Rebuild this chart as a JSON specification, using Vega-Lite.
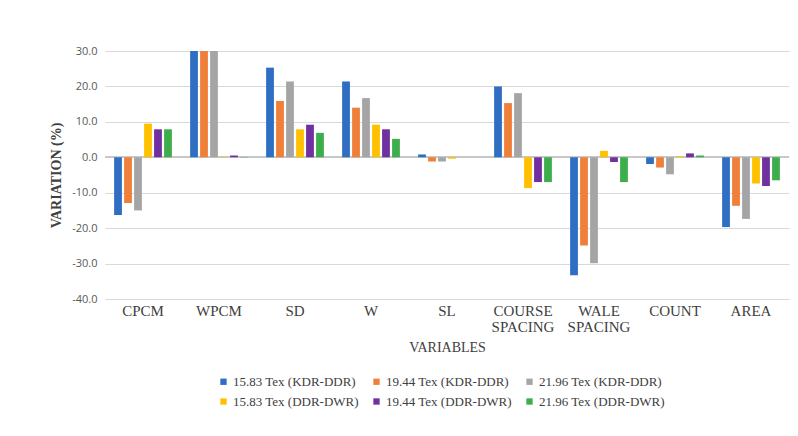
{
  "$schema": "https://vega.github.io/schema/vega-lite/v6.json",
  "width": 684,
  "height": 248,
  "autosize": {"type": "none"},
  "padding": {"left": 105, "top": 51, "right": 9, "bottom": 137},
  "background": "white",
  "data": {
    "values": [
      {"variable": "CPCM", "series": "15.83 Tex (KDR-DDR)", "value": -16.3},
      {"variable": "CPCM", "series": "19.44 Tex (KDR-DDR)", "value": -12.9},
      {"variable": "CPCM", "series": "21.96 Tex (KDR-DDR)", "value": -15.0},
      {"variable": "CPCM", "series": "15.83 Tex (DDR-DWR)", "value": 9.5},
      {"variable": "CPCM", "series": "19.44 Tex (DDR-DWR)", "value": 7.9},
      {"variable": "CPCM", "series": "21.96 Tex (DDR-DWR)", "value": 7.9},
      {"variable": "WPCM", "series": "15.83 Tex (KDR-DDR)", "value": 30.0},
      {"variable": "WPCM", "series": "19.44 Tex (KDR-DDR)", "value": 30.0},
      {"variable": "WPCM", "series": "21.96 Tex (KDR-DDR)", "value": 30.0},
      {"variable": "WPCM", "series": "15.83 Tex (DDR-DWR)", "value": 0.1},
      {"variable": "WPCM", "series": "19.44 Tex (DDR-DWR)", "value": 0.5},
      {"variable": "WPCM", "series": "21.96 Tex (DDR-DWR)", "value": 0.1},
      {"variable": "SD", "series": "15.83 Tex (KDR-DDR)", "value": 25.3},
      {"variable": "SD", "series": "19.44 Tex (KDR-DDR)", "value": 15.9},
      {"variable": "SD", "series": "21.96 Tex (KDR-DDR)", "value": 21.4},
      {"variable": "SD", "series": "15.83 Tex (DDR-DWR)", "value": 7.9},
      {"variable": "SD", "series": "19.44 Tex (DDR-DWR)", "value": 9.2},
      {"variable": "SD", "series": "21.96 Tex (DDR-DWR)", "value": 6.9},
      {"variable": "W", "series": "15.83 Tex (KDR-DDR)", "value": 21.4},
      {"variable": "W", "series": "19.44 Tex (KDR-DDR)", "value": 14.0},
      {"variable": "W", "series": "21.96 Tex (KDR-DDR)", "value": 16.7},
      {"variable": "W", "series": "15.83 Tex (DDR-DWR)", "value": 9.2},
      {"variable": "W", "series": "19.44 Tex (DDR-DWR)", "value": 7.9},
      {"variable": "W", "series": "21.96 Tex (DDR-DWR)", "value": 5.2},
      {"variable": "SL", "series": "15.83 Tex (KDR-DDR)", "value": 0.8},
      {"variable": "SL", "series": "19.44 Tex (KDR-DDR)", "value": -1.2},
      {"variable": "SL", "series": "21.96 Tex (KDR-DDR)", "value": -1.2},
      {"variable": "SL", "series": "15.83 Tex (DDR-DWR)", "value": -0.4},
      {"variable": "SL", "series": "19.44 Tex (DDR-DWR)", "value": 0.0},
      {"variable": "SL", "series": "21.96 Tex (DDR-DWR)", "value": 0.0},
      {"variable": "COURSE SPACING", "series": "15.83 Tex (KDR-DDR)", "value": 20.0},
      {"variable": "COURSE SPACING", "series": "19.44 Tex (KDR-DDR)", "value": 15.3},
      {"variable": "COURSE SPACING", "series": "21.96 Tex (KDR-DDR)", "value": 18.1},
      {"variable": "COURSE SPACING", "series": "15.83 Tex (DDR-DWR)", "value": -8.7},
      {"variable": "COURSE SPACING", "series": "19.44 Tex (DDR-DWR)", "value": -7.0},
      {"variable": "COURSE SPACING", "series": "21.96 Tex (DDR-DWR)", "value": -7.0},
      {"variable": "WALE SPACING", "series": "15.83 Tex (KDR-DDR)", "value": -33.3},
      {"variable": "WALE SPACING", "series": "19.44 Tex (KDR-DDR)", "value": -24.9},
      {"variable": "WALE SPACING", "series": "21.96 Tex (KDR-DDR)", "value": -29.9},
      {"variable": "WALE SPACING", "series": "15.83 Tex (DDR-DWR)", "value": 1.8},
      {"variable": "WALE SPACING", "series": "19.44 Tex (DDR-DWR)", "value": -1.3},
      {"variable": "WALE SPACING", "series": "21.96 Tex (DDR-DWR)", "value": -7.0},
      {"variable": "COUNT", "series": "15.83 Tex (KDR-DDR)", "value": -1.9},
      {"variable": "COUNT", "series": "19.44 Tex (KDR-DDR)", "value": -2.9},
      {"variable": "COUNT", "series": "21.96 Tex (KDR-DDR)", "value": -4.8},
      {"variable": "COUNT", "series": "15.83 Tex (DDR-DWR)", "value": 0.3},
      {"variable": "COUNT", "series": "19.44 Tex (DDR-DWR)", "value": 1.1},
      {"variable": "COUNT", "series": "21.96 Tex (DDR-DWR)", "value": 0.5},
      {"variable": "AREA", "series": "15.83 Tex (KDR-DDR)", "value": -19.7},
      {"variable": "AREA", "series": "19.44 Tex (KDR-DDR)", "value": -13.7},
      {"variable": "AREA", "series": "21.96 Tex (KDR-DDR)", "value": -17.4},
      {"variable": "AREA", "series": "15.83 Tex (DDR-DWR)", "value": -7.4},
      {"variable": "AREA", "series": "19.44 Tex (DDR-DWR)", "value": -8.1},
      {"variable": "AREA", "series": "21.96 Tex (DDR-DWR)", "value": -6.5}
    ]
  },
  "encoding": {
    "y": {
      "field": "value",
      "type": "quantitative",
      "scale": {"domain": [-40, 30], "nice": false},
      "axis": {
        "title": "VARIATION (%)",
        "titleFont": "Liberation Serif",
        "titleFontSize": 14,
        "titleFontWeight": "bold",
        "titleColor": "#404040",
        "titlePadding": 8,
        "labelFont": "Open Sans",
        "labelFontSize": 11,
        "labelColor": "#595959",
        "labelPadding": 8,
        "labelOverlap": false,
        "labelExpr": "replace(format(datum.value, '.1f'), '\u2212', '-')",
        "values": [-40, -30, -20, -10, 0, 10, 20, 30],
        "domain": false,
        "ticks": false,
        "gridColor": "#D9D9D9",
        "gridWidth": 1.2
      }
    }
  },
  "layer": [
    {
      "mark": {"type": "rule", "color": "#C8C8C8", "strokeWidth": 1},
      "encoding": {"y": {"datum": 0, "type": "quantitative"}}
    },
    {
      "mark": {"type": "bar", "clip": true},
      "encoding": {
        "x": {
          "field": "variable",
          "type": "nominal",
          "sort": ["CPCM", "WPCM", "SD", "W", "SL", "COURSE SPACING", "WALE SPACING", "COUNT", "AREA"],
          "scale": {"paddingInner": 0.24, "paddingOuter": 0.12},
          "axis": {
            "title": "VARIABLES",
            "titleFont": "Liberation Serif",
            "titleFontSize": 14,
            "titleFontWeight": "normal",
            "titleColor": "#404040",
            "titlePadding": 6,
            "labelFont": "Liberation Serif",
            "labelFontSize": 15,
            "labelColor": "#404040",
            "labelAngle": 0,
            "labelPadding": 4,
            "labelLineHeight": 16,
            "labelExpr": "split(datum.label, ' ')",
            "domain": false,
            "ticks": false,
            "grid": false
          }
        },
        "xOffset": {
          "field": "series",
          "type": "nominal",
          "sort": ["15.83 Tex (KDR-DDR)", "19.44 Tex (KDR-DDR)", "21.96 Tex (KDR-DDR)", "15.83 Tex (DDR-DWR)", "19.44 Tex (DDR-DWR)", "21.96 Tex (DDR-DWR)"],
          "scale": {"paddingInner": 0.22}
        },
        "color": {
          "field": "series",
          "type": "nominal",
          "sort": ["15.83 Tex (KDR-DDR)", "19.44 Tex (KDR-DDR)", "21.96 Tex (KDR-DDR)", "15.83 Tex (DDR-DWR)", "19.44 Tex (DDR-DWR)", "21.96 Tex (DDR-DWR)"],
          "scale": {
            "domain": ["15.83 Tex (KDR-DDR)", "19.44 Tex (KDR-DDR)", "21.96 Tex (KDR-DDR)", "15.83 Tex (DDR-DWR)", "19.44 Tex (DDR-DWR)", "21.96 Tex (DDR-DWR)"],
            "range": ["#2F6EC3", "#F07F3A", "#A5A5A5", "#FFC000", "#7030A0", "#3DAE4B"]
          },
          "legend": {
            "title": null,
            "orient": "none",
            "legendX": 112,
            "legendY": 324,
            "direction": "horizontal",
            "columns": 3,
            "columnPadding": 11,
            "rowPadding": 6,
            "symbolType": "square",
            "symbolSize": 40,
            "symbolStrokeWidth": 0,
            "labelFont": "Liberation Serif",
            "labelFontSize": 13,
            "labelColor": "#404040",
            "labelOffset": 3
          }
        }
      }
    }
  ],
  "config": {
    "view": {"stroke": null}
  }
}
